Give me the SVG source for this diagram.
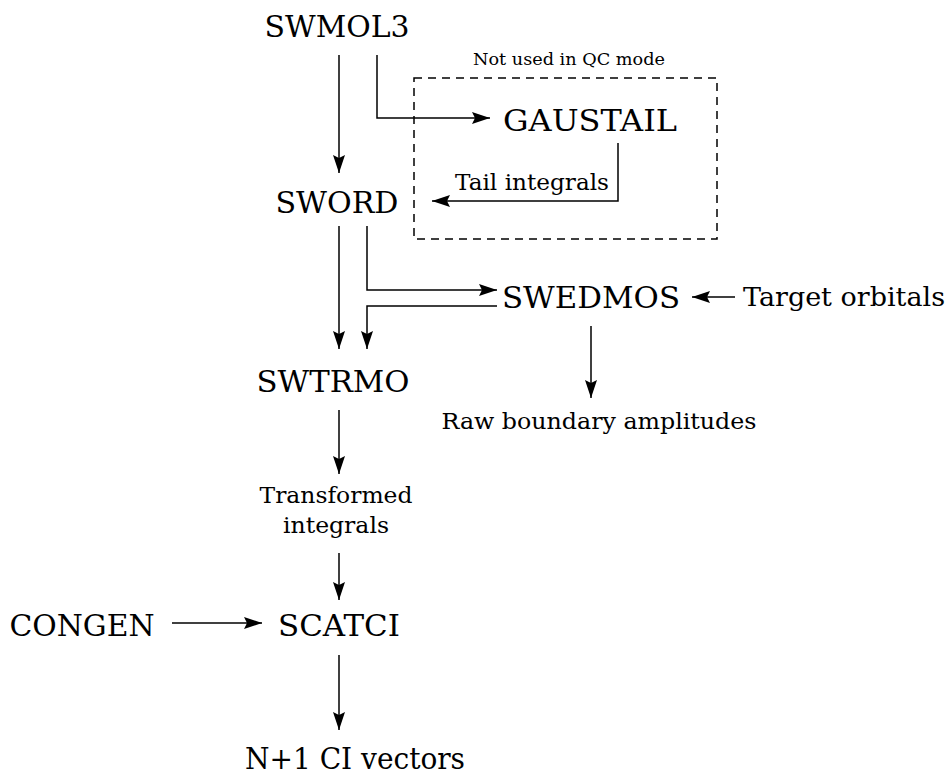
<svg xmlns="http://www.w3.org/2000/svg" width="947" height="776" viewBox="0 0 947 776">
<style>
text{font-family:"DejaVu Serif","Liberation Serif",serif;fill:#000;text-anchor:middle}
.big{font-size:30px}
.mid{font-size:26px}
.sm{font-size:22px}
.xs{font-size:17px}
.c{fill:none;stroke:#000;stroke-width:1.5}
</style>
<defs>
<marker id="ah" markerUnits="userSpaceOnUse" markerWidth="22" markerHeight="14" viewBox="-20 -7 22 14" refX="0" refY="0" orient="auto">
<path d="M0,0 L-18,-6 L-15,0 L-18,6 Z" fill="#000"/>
</marker>
</defs>
<rect x="414" y="78" width="303" height="161" fill="none" stroke="#000" stroke-width="1.5" stroke-dasharray="8,6"/>
<text class="xs" x="569" y="65" textLength="192" lengthAdjust="spacingAndGlyphs">Not used in QC mode</text>
<g id="swmol3"><text class="big" x="337" y="37" textLength="145" lengthAdjust="spacingAndGlyphs">SWMOL3</text></g>
<g id="gaustail"><text class="big" x="590" y="131" textLength="174" lengthAdjust="spacingAndGlyphs">GAUSTAIL</text></g>
<g id="sword"><text class="big" x="337" y="213" textLength="123" lengthAdjust="spacingAndGlyphs">SWORD</text></g>
<g id="swedmos"><text class="big" x="591" y="308" textLength="178" lengthAdjust="spacingAndGlyphs">SWEDMOS</text></g>
<g id="target"><text class="mid" x="844" y="306" textLength="202" lengthAdjust="spacingAndGlyphs">Target orbitals</text></g>
<g id="swtrmo"><text class="big" x="333" y="392" textLength="153" lengthAdjust="spacingAndGlyphs">SWTRMO</text></g>
<g id="raw"><text class="sm" x="599" y="429" textLength="315" lengthAdjust="spacingAndGlyphs">Raw boundary amplitudes</text></g>
<g id="transformed"><text class="sm" x="336" y="503" textLength="153" lengthAdjust="spacingAndGlyphs">Transformed</text><text class="sm" x="336" y="533" textLength="106" lengthAdjust="spacingAndGlyphs">integrals</text></g>
<g id="congen"><text class="big" x="82" y="636" textLength="145" lengthAdjust="spacingAndGlyphs">CONGEN</text></g>
<g id="scatci"><text class="big" x="339" y="636" textLength="122" lengthAdjust="spacingAndGlyphs">SCATCI</text></g>
<g id="ncivec"><text class="big" x="355" y="769" textLength="220" lengthAdjust="spacingAndGlyphs">N+1 CI vectors</text></g>
<g id="connectors">
<path class="c" d="M339,55 V173" marker-end="url(#ah)"/>
<path class="c" d="M377,55 V118 H490" marker-end="url(#ah)"/>
<path class="c" d="M618,143 V201 H432" marker-end="url(#ah)"/>
<text class="sm" x="532" y="190" textLength="154" lengthAdjust="spacingAndGlyphs">Tail integrals</text>
<path class="c" d="M339,226 V349" marker-end="url(#ah)"/>
<path class="c" d="M367,226 V290 H497" marker-end="url(#ah)"/>
<path class="c" d="M497,306 H367 V349" marker-end="url(#ah)"/>
<path class="c" d="M735,297 H692" marker-end="url(#ah)"/>
<path class="c" d="M591,326 V398" marker-end="url(#ah)"/>
<path class="c" d="M339,410 V474" marker-end="url(#ah)"/>
<path class="c" d="M339,553 V600" marker-end="url(#ah)"/>
<path class="c" d="M172,623 H262" marker-end="url(#ah)"/>
<path class="c" d="M339,655 V730" marker-end="url(#ah)"/>
</g>
</svg>
